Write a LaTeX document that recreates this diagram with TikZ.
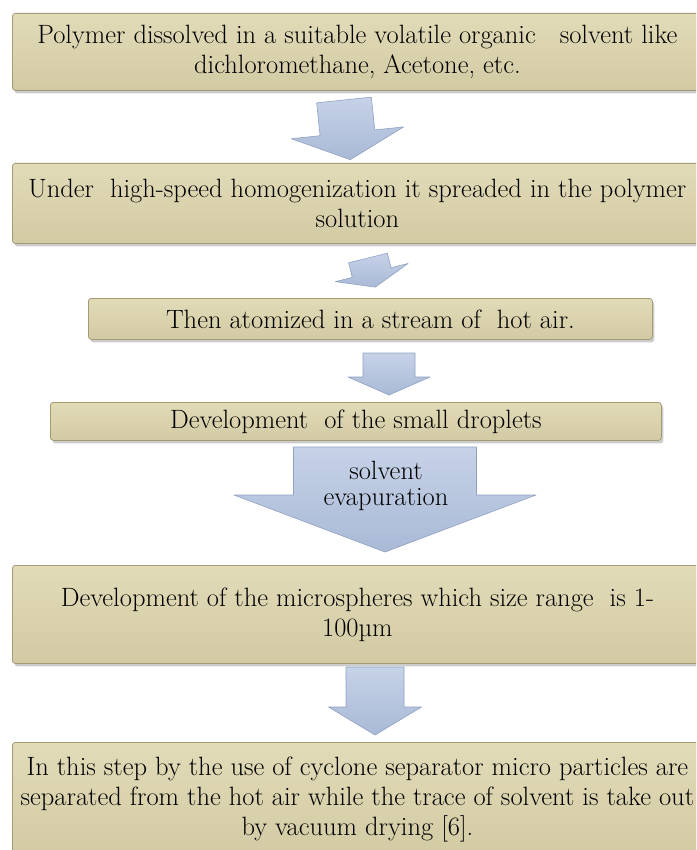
\documentclass[tikz,border=0pt]{standalone}
\usepackage{fontspec}
\usetikzlibrary{shadows}
\definecolor{boxfill}{HTML}{D2CAA3}
\definecolor{boxtop}{HTML}{E2DBB8}
\definecolor{boxedge}{HTML}{A39B76}
\definecolor{arrfill}{HTML}{A9B9D6}
\definecolor{arrtop}{HTML}{C6D2E7}
\definecolor{arredge}{HTML}{8FA1C2}
\tikzset{
  stepbox/.style={draw=boxedge, line width=0.8pt, top color=boxtop, bottom color=boxfill,
    rounded corners=3pt, align=center, inner sep=0pt, anchor=north west,
    drop shadow={shadow xshift=2pt, shadow yshift=-3pt, opacity=0.4}},
  arrowbody/.style={draw=arredge, line width=0.6pt, top color=arrtop, bottom color=arrfill,
    line join=round}
}
% 块状箭头: 中心x, 顶端y, 长度, 箭杆宽, 箭头宽, 箭头长, 旋转角
\newcommand\flowarrow[7]{%
  \begin{scope}[shift={(#1,#2)}, rotate=#7]
    \path[arrowbody] (-#4/2,0) -- (#4/2,0) -- (#4/2,#3-#6) -- (#5/2,#3-#6) -- (0,#3)
      -- (-#5/2,#3-#6) -- (-#4/2,#3-#6) -- cycle;
  \end{scope}}
\begin{document}
\begin{tikzpicture}[x=1pt, y=-1pt, font=\fontsize{26.5}{30}\selectfont]
  \useasboundingbox (0,0) rectangle (696,850);
  \clip (0,0) rectangle (696,850);
  % 各步骤
  \node[stepbox, minimum width=690pt, minimum height=77pt] (b1) at (12,13)
    {Polymer dissolved in a suitable volatile organic ~~solvent like\\dichloromethane, Acetone, etc.};
  \node[stepbox, minimum width=690pt, minimum height=80pt] (b2) at (12,163)
    {Under ~high-speed homogenization it spreaded in the polymer\\solution};
  \node[stepbox, minimum width=564pt, minimum height=41pt] (b3) at (88,298)
    {Then atomized in a stream of ~hot air.};
  \node[stepbox, minimum width=611pt, minimum height=38pt] (b4) at (50,402)
    {Development ~of the small droplets};
  \node[stepbox, minimum width=690pt, minimum height=98pt] (b5) at (12,565)
    {Development of the microspheres which size range ~is 1-\\100µm};
  \node[stepbox, minimum width=690pt, minimum height=115pt] (b6) at (12,742)
    {In this step by the use of cyclone separator micro particles are\\separated from the hot air while the trace of solvent is take out\\by vacuum drying [6].};
  % 箭头
  \flowarrow{344}{100}{60}{55}{113}{27}{6}
  \flowarrow{368}{258}{30}{40}{75}{15}{14}
  \flowarrow{389}{353}{42}{52}{82}{18}{0}
  \flowarrow{385}{447}{105}{183}{302}{57}{0}
  \flowarrow{375}{667}{68}{58}{93}{28}{0}
  \node[align=center, font=\fontsize{26.5}{26}\selectfont] (evap) at (386,486) {solvent\\evapuration};
\end{tikzpicture}
\end{document}
